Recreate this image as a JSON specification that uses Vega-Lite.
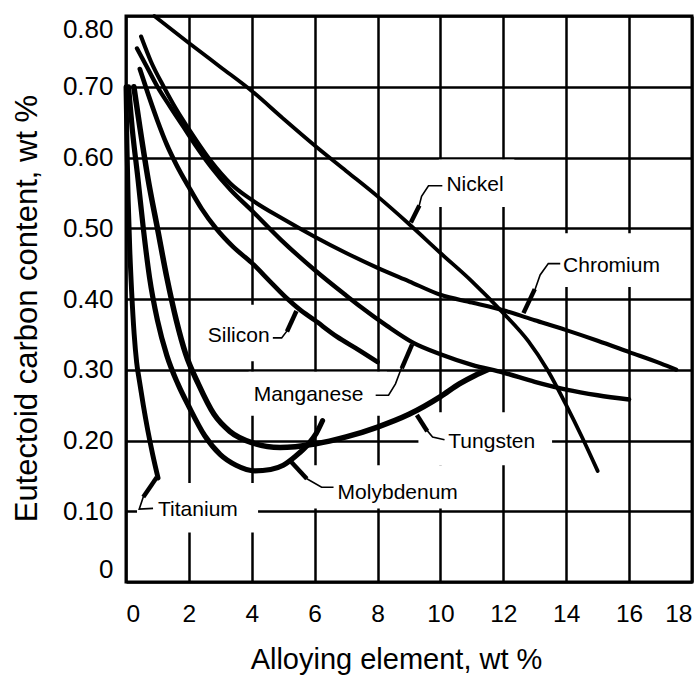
{
  "$schema": "https://vega.github.io/schema/vega-lite/v6.json",
  "width": 566,
  "height": 566,
  "autosize": {"type": "none"},
  "padding": {"left": 126, "top": 16, "right": 5, "bottom": 98},
  "background": "white",
  "config": {
    "font": "Liberation Sans",
    "view": {"stroke": "black", "strokeWidth": 3}
  },
  "datasets": {
    "curves": [
      {"element": "Nickel", "x": 0.9, "y": 0.8}, {"element": "Nickel", "x": 2, "y": 0.762}, {"element": "Nickel", "x": 3, "y": 0.728}, {"element": "Nickel", "x": 4, "y": 0.694}, {"element": "Nickel", "x": 5, "y": 0.655}, {"element": "Nickel", "x": 6, "y": 0.617}, {"element": "Nickel", "x": 7, "y": 0.581}, {"element": "Nickel", "x": 8, "y": 0.545}, {"element": "Nickel", "x": 9, "y": 0.506}, {"element": "Nickel", "x": 10, "y": 0.465}, {"element": "Nickel", "x": 11, "y": 0.425}, {"element": "Nickel", "x": 12, "y": 0.38}, {"element": "Nickel", "x": 12.8, "y": 0.34}, {"element": "Nickel", "x": 13.4, "y": 0.3}, {"element": "Nickel", "x": 14, "y": 0.25}, {"element": "Nickel", "x": 14.5, "y": 0.205}, {"element": "Nickel", "x": 15, "y": 0.157},
      {"element": "Chromium", "x": 0.48, "y": 0.771}, {"element": "Chromium", "x": 0.8, "y": 0.735}, {"element": "Chromium", "x": 1.2, "y": 0.7}, {"element": "Chromium", "x": 1.6, "y": 0.668}, {"element": "Chromium", "x": 2.0, "y": 0.64}, {"element": "Chromium", "x": 2.7, "y": 0.595}, {"element": "Chromium", "x": 3.33, "y": 0.563}, {"element": "Chromium", "x": 4, "y": 0.54}, {"element": "Chromium", "x": 5, "y": 0.513}, {"element": "Chromium", "x": 6, "y": 0.488}, {"element": "Chromium", "x": 7, "y": 0.465}, {"element": "Chromium", "x": 8, "y": 0.444}, {"element": "Chromium", "x": 9, "y": 0.425}, {"element": "Chromium", "x": 10, "y": 0.406}, {"element": "Chromium", "x": 11, "y": 0.395}, {"element": "Chromium", "x": 12, "y": 0.384}, {"element": "Chromium", "x": 13, "y": 0.37}, {"element": "Chromium", "x": 14, "y": 0.356}, {"element": "Chromium", "x": 15, "y": 0.341}, {"element": "Chromium", "x": 16, "y": 0.325}, {"element": "Chromium", "x": 17, "y": 0.309}, {"element": "Chromium", "x": 17.5, "y": 0.3},
      {"element": "Manganese", "x": 0.35, "y": 0.754}, {"element": "Manganese", "x": 0.7, "y": 0.725}, {"element": "Manganese", "x": 1.0, "y": 0.7}, {"element": "Manganese", "x": 1.4, "y": 0.672}, {"element": "Manganese", "x": 1.8, "y": 0.645}, {"element": "Manganese", "x": 2.2, "y": 0.618}, {"element": "Manganese", "x": 2.7, "y": 0.587}, {"element": "Manganese", "x": 3.33, "y": 0.554}, {"element": "Manganese", "x": 4, "y": 0.525}, {"element": "Manganese", "x": 4.92, "y": 0.484}, {"element": "Manganese", "x": 6, "y": 0.441}, {"element": "Manganese", "x": 7, "y": 0.405}, {"element": "Manganese", "x": 7.46, "y": 0.389}, {"element": "Manganese", "x": 8.3, "y": 0.362}, {"element": "Manganese", "x": 9.14, "y": 0.338}, {"element": "Manganese", "x": 10, "y": 0.322}, {"element": "Manganese", "x": 11, "y": 0.307}, {"element": "Manganese", "x": 12, "y": 0.296}, {"element": "Manganese", "x": 13, "y": 0.283}, {"element": "Manganese", "x": 14, "y": 0.272}, {"element": "Manganese", "x": 15, "y": 0.264}, {"element": "Manganese", "x": 16, "y": 0.258},
      {"element": "Silicon", "x": 0.44, "y": 0.725}, {"element": "Silicon", "x": 0.7, "y": 0.69}, {"element": "Silicon", "x": 1.0, "y": 0.652}, {"element": "Silicon", "x": 1.3, "y": 0.618}, {"element": "Silicon", "x": 1.6, "y": 0.59}, {"element": "Silicon", "x": 2.0, "y": 0.558}, {"element": "Silicon", "x": 2.4, "y": 0.528}, {"element": "Silicon", "x": 2.86, "y": 0.5}, {"element": "Silicon", "x": 3.4, "y": 0.474}, {"element": "Silicon", "x": 4, "y": 0.451}, {"element": "Silicon", "x": 4.6, "y": 0.424}, {"element": "Silicon", "x": 5.14, "y": 0.4}, {"element": "Silicon", "x": 5.5, "y": 0.386}, {"element": "Silicon", "x": 6, "y": 0.37}, {"element": "Silicon", "x": 6.7, "y": 0.347}, {"element": "Silicon", "x": 7.4, "y": 0.328}, {"element": "Silicon", "x": 8, "y": 0.311},
      {"element": "Titanium", "x": 0.0, "y": 0.7}, {"element": "Titanium", "x": 0.03, "y": 0.62}, {"element": "Titanium", "x": 0.07, "y": 0.54}, {"element": "Titanium", "x": 0.12, "y": 0.47}, {"element": "Titanium", "x": 0.18, "y": 0.41}, {"element": "Titanium", "x": 0.26, "y": 0.35}, {"element": "Titanium", "x": 0.34, "y": 0.31}, {"element": "Titanium", "x": 0.42, "y": 0.286}, {"element": "Titanium", "x": 0.55, "y": 0.25}, {"element": "Titanium", "x": 0.69, "y": 0.215}, {"element": "Titanium", "x": 0.85, "y": 0.18}, {"element": "Titanium", "x": 1.02, "y": 0.147},
      {"element": "Molybdenum", "x": 0.08, "y": 0.7}, {"element": "Molybdenum", "x": 0.2, "y": 0.64}, {"element": "Molybdenum", "x": 0.38, "y": 0.57}, {"element": "Molybdenum", "x": 0.55, "y": 0.5}, {"element": "Molybdenum", "x": 0.75, "y": 0.43}, {"element": "Molybdenum", "x": 1.0, "y": 0.37}, {"element": "Molybdenum", "x": 1.3, "y": 0.32}, {"element": "Molybdenum", "x": 1.65, "y": 0.28}, {"element": "Molybdenum", "x": 2.0, "y": 0.248}, {"element": "Molybdenum", "x": 2.5, "y": 0.207}, {"element": "Molybdenum", "x": 3.0, "y": 0.18}, {"element": "Molybdenum", "x": 3.5, "y": 0.165}, {"element": "Molybdenum", "x": 4.1, "y": 0.157}, {"element": "Molybdenum", "x": 4.6, "y": 0.159}, {"element": "Molybdenum", "x": 5.0, "y": 0.165}, {"element": "Molybdenum", "x": 5.4, "y": 0.178}, {"element": "Molybdenum", "x": 5.8, "y": 0.195}, {"element": "Molybdenum", "x": 6.05, "y": 0.21}, {"element": "Molybdenum", "x": 6.25, "y": 0.228},
      {"element": "Tungsten", "x": 0.25, "y": 0.7}, {"element": "Tungsten", "x": 0.45, "y": 0.64}, {"element": "Tungsten", "x": 0.7, "y": 0.57}, {"element": "Tungsten", "x": 1.0, "y": 0.5}, {"element": "Tungsten", "x": 1.3, "y": 0.43}, {"element": "Tungsten", "x": 1.6, "y": 0.37}, {"element": "Tungsten", "x": 1.9, "y": 0.322}, {"element": "Tungsten", "x": 2.3, "y": 0.28}, {"element": "Tungsten", "x": 2.8, "y": 0.237}, {"element": "Tungsten", "x": 3.3, "y": 0.213}, {"element": "Tungsten", "x": 4.0, "y": 0.197}, {"element": "Tungsten", "x": 4.9, "y": 0.19}, {"element": "Tungsten", "x": 6.0, "y": 0.195}, {"element": "Tungsten", "x": 7.0, "y": 0.205}, {"element": "Tungsten", "x": 8.0, "y": 0.219}, {"element": "Tungsten", "x": 9.0, "y": 0.237}, {"element": "Tungsten", "x": 10.0, "y": 0.262}, {"element": "Tungsten", "x": 10.6, "y": 0.28}, {"element": "Tungsten", "x": 11.1, "y": 0.292}, {"element": "Tungsten", "x": 11.5, "y": 0.3}
    ],
    "boxes": [
      {"x": 9.95, "x2": 12.35, "y": 0.53, "y2": 0.597},
      {"x": 13.7, "x2": 16.9, "y": 0.417, "y2": 0.493},
      {"x": 2.45, "x2": 4.6, "y": 0.312, "y2": 0.392},
      {"x": 3.9, "x2": 8.3, "y": 0.235, "y2": 0.297},
      {"x": 9.3, "x2": 13.55, "y": 0.165, "y2": 0.24},
      {"x": 5.9, "x2": 10.7, "y": 0.104, "y2": 0.165},
      {"x": 0.35, "x2": 4.2, "y": 0.07, "y2": 0.14}
    ],
    "leaders": [
      {"name": "Nickel", "i": 1, "x": 10.06, "y": 0.56}, {"name": "Nickel", "i": 2, "x": 9.62, "y": 0.56}, {"name": "Nickel", "i": 3, "x": 9.4, "y": 0.545}, {"name": "Nickel", "i": 4, "x": 9.3, "y": 0.528},
      {"name": "Chromium", "i": 1, "x": 13.81, "y": 0.45}, {"name": "Chromium", "i": 2, "x": 13.43, "y": 0.45}, {"name": "Chromium", "i": 3, "x": 13.17, "y": 0.434}, {"name": "Chromium", "i": 4, "x": 12.98, "y": 0.41},
      {"name": "Silicon", "i": 1, "x": 4.67, "y": 0.345}, {"name": "Silicon", "i": 2, "x": 4.95, "y": 0.345}, {"name": "Silicon", "i": 3, "x": 5.14, "y": 0.356},
      {"name": "Manganese", "i": 1, "x": 7.94, "y": 0.264}, {"name": "Manganese", "i": 2, "x": 8.35, "y": 0.264}, {"name": "Manganese", "i": 3, "x": 8.57, "y": 0.28}, {"name": "Manganese", "i": 4, "x": 8.79, "y": 0.306},
      {"name": "Tungsten", "i": 1, "x": 10.13, "y": 0.201}, {"name": "Tungsten", "i": 2, "x": 9.75, "y": 0.205}, {"name": "Tungsten", "i": 3, "x": 9.56, "y": 0.215},
      {"name": "Molybdenum", "i": 1, "x": 6.6, "y": 0.134}, {"name": "Molybdenum", "i": 2, "x": 6.22, "y": 0.134}, {"name": "Molybdenum", "i": 3, "x": 5.71, "y": 0.147},
      {"name": "Titanium", "i": 1, "x": 0.86, "y": 0.104}, {"name": "Titanium", "i": 2, "x": 0.42, "y": 0.103}, {"name": "Titanium", "i": 3, "x": 0.57, "y": 0.123}
    ],
    "arrows": [
      {"name": "Nickel", "i": 1, "x": 9.33, "y": 0.532}, {"name": "Nickel", "i": 2, "x": 9.06, "y": 0.508},
      {"name": "Chromium", "i": 1, "x": 13.0, "y": 0.414}, {"name": "Chromium", "i": 2, "x": 12.64, "y": 0.38},
      {"name": "Silicon", "i": 1, "x": 5.12, "y": 0.354}, {"name": "Silicon", "i": 2, "x": 5.42, "y": 0.383},
      {"name": "Manganese", "i": 1, "x": 8.77, "y": 0.302}, {"name": "Manganese", "i": 2, "x": 9.1, "y": 0.336},
      {"name": "Tungsten", "i": 1, "x": 9.58, "y": 0.213}, {"name": "Tungsten", "i": 2, "x": 9.25, "y": 0.236},
      {"name": "Molybdenum", "i": 1, "x": 5.75, "y": 0.146}, {"name": "Molybdenum", "i": 2, "x": 5.25, "y": 0.17},
      {"name": "Titanium", "i": 1, "x": 0.55, "y": 0.12}, {"name": "Titanium", "i": 2, "x": 0.98, "y": 0.148}
    ],
    "labels": [
      {"text": "Nickel", "x": 10.19, "y": 0.561},
      {"text": "Chromium", "x": 13.9, "y": 0.446},
      {"text": "Silicon", "x": 2.6, "y": 0.347},
      {"text": "Manganese", "x": 4.06, "y": 0.264},
      {"text": "Tungsten", "x": 10.25, "y": 0.198},
      {"text": "Molybdenum", "x": 6.73, "y": 0.126},
      {"text": "Titanium", "x": 1.02, "y": 0.102}
    ]
  },
  "encoding": {
    "x": {
      "field": "x", "type": "quantitative",
      "scale": {"domain": [0, 18], "nice": false, "zero": false},
      "axis": {
        "values": [0, 2, 4, 6, 8, 10, 12, 14, 16, 18],
        "title": "Alloying element, wt %",
        "grid": true, "gridColor": "black", "gridWidth": 2.5, "gridOpacity": 1,
        "domain": false, "ticks": false, "tickSize": 0,
        "labelPadding": 20, "labelFontSize": 24.5, "labelColor": "black", "labelFlush": true,
        "titleFontSize": 29, "titleFontWeight": "normal", "titleColor": "black", "titlePadding": 20,
        "titleX": 270
      }
    },
    "y": {
      "field": "y", "type": "quantitative",
      "scale": {"domain": [0, 0.8], "nice": false, "zero": false},
      "axis": {
        "values": [0, 0.1, 0.2, 0.3, 0.4, 0.5, 0.6, 0.7, 0.8],
        "labelExpr": "datum.value == 0 ? '0' : format(datum.value, '.2f')",
        "title": "Eutectoid carbon content, wt %",
        "grid": true, "gridColor": "black", "gridWidth": 2.5, "gridOpacity": 1,
        "domain": false, "ticks": false, "tickSize": 0,
        "labelPadding": 13, "labelFontSize": 26, "labelColor": "black", "labelFlush": true,
        "titleFontSize": 31, "titleFontWeight": "normal", "titleColor": "black", "titlePadding": 19,
        "titleY": 292
      }
    }
  },
  "layer": [
    {
      "data": {"name": "boxes"},
      "mark": {"type": "rect", "fill": "white", "stroke": null},
      "encoding": {"x2": {"field": "x2"}, "y2": {"field": "y2"}}
    },
    {
      "data": {"name": "curves"},
      "mark": {"type": "line", "color": "black", "interpolate": "monotone", "strokeCap": "round"},
      "encoding": {
        "detail": {"field": "element", "type": "nominal"},
        "strokeWidth": {
          "field": "element", "type": "nominal",
          "scale": {"domain": ["Nickel", "Chromium", "Manganese", "Silicon", "Titanium", "Molybdenum", "Tungsten"], "range": [3.8, 5.5, 3.8, 3.8, 4, 4.8, 5.5]},
          "legend": null
        }
      }
    },
    {
      "data": {"name": "leaders"},
      "mark": {"type": "line", "color": "black", "strokeWidth": 1.6},
      "encoding": {
        "detail": {"field": "name", "type": "nominal"},
        "order": {"field": "i", "type": "quantitative"}
      }
    },
    {
      "data": {"name": "arrows"},
      "mark": {"type": "line", "color": "black", "strokeWidth": 4.5},
      "encoding": {
        "detail": {"field": "name", "type": "nominal"},
        "order": {"field": "i", "type": "quantitative"}
      }
    },
    {
      "data": {"name": "labels"},
      "mark": {"type": "text", "align": "left", "baseline": "middle", "fontSize": 21, "color": "black"},
      "encoding": {"text": {"field": "text", "type": "nominal"}}
    }
  ]
}
